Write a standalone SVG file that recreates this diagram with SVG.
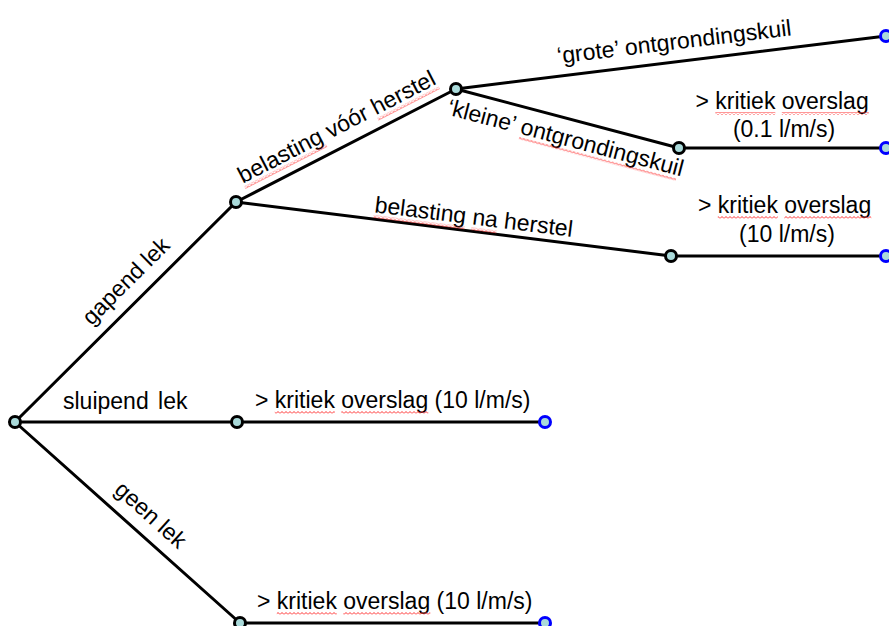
<svg xmlns="http://www.w3.org/2000/svg" width="889" height="626" viewBox="0 0 889 626">
<defs>
<pattern id="sq" width="4" height="3" patternUnits="userSpaceOnUse">
<path d="M0,2.5 L2,0.5 L4,2.5" fill="none" stroke="#ff3030" stroke-width="1"/>
</pattern>
</defs>
<style>
.e{stroke:#000;stroke-width:3;fill:none;stroke-linecap:round}
.n{fill:#aadada;stroke:#000;stroke-width:3}
.b{fill:#aadada;stroke:#0000ff;stroke-width:3}
text{font-family:"Liberation Sans",Arial,sans-serif;font-size:23px;fill:#000}
.s{fill:url(#sq)}
</style>
<rect width="889" height="626" fill="#fff"/>
<g id="connectors">
<line class="e" x1="15" y1="422" x2="236" y2="202"/>
<line class="e" x1="15" y1="422" x2="237" y2="422"/>
<line class="e" x1="15" y1="422" x2="240" y2="623"/>
<line class="e" x1="236" y1="202" x2="456" y2="89"/>
<line class="e" x1="236" y1="202" x2="671" y2="256"/>
<line class="e" x1="456" y1="89" x2="886" y2="36"/>
<line class="e" x1="456" y1="89" x2="679" y2="148"/>
<line class="e" x1="679" y1="148" x2="886" y2="148"/>
<line class="e" x1="671" y1="256" x2="886" y2="256"/>
<line class="e" x1="237" y1="422" x2="545" y2="422"/>
<line class="e" x1="240" y1="623" x2="545" y2="623"/>
</g>
<g id="labels">
<g transform="translate(141.2,296.4) rotate(-44.87)"><text x="-56.3" y="-14">gapend lek</text></g>
<g transform="translate(346,145.3) rotate(-27.2)"><text x="-109.3" y="-13">belasting vóór herstel</text>
<rect class="s" x="-109.3" y="-10" width="92" height="3"/><rect class="s" x="40.3" y="-10" width="69" height="3"/></g>
<g transform="translate(472,231.4) rotate(7.1)"><text x="-99.7" y="-7">belasting na herstel</text>
<rect class="s" x="-99.7" y="-4" width="92" height="3"/><rect class="s" x="-1.3" y="-4" width="25.6" height="3"/></g>
<g transform="translate(674.5,62.6) rotate(-6.9)"><text x="-115.7" y="-13">‘grote’ ontgrondingskuil</text></g>
<g transform="translate(568.4,118.6) rotate(14.8)"><text x="-119.5" y="27">‘kleine’ ontgrondingskuil</text>
<rect class="s" x="-42.8" y="30" width="162.3" height="3"/></g>
<g transform="translate(136.4,531) rotate(41.9)"><text x="-43.5" y="-14">geen lek</text></g>
<text x="63" y="409" word-spacing="3">sluipend lek</text>
<text x="255" y="408">&gt; kritiek overslag (10 l/m/s)</text>
<rect class="s" x="274.8" y="411" width="60" height="3"/><rect class="s" x="341.3" y="411" width="87" height="3"/>
<text x="257" y="609">&gt; kritiek overslag (10 l/m/s)</text>
<rect class="s" x="276.8" y="612" width="60" height="3"/><rect class="s" x="343.3" y="612" width="87" height="3"/>
<text x="695.5" y="109">&gt; kritiek overslag</text>
<rect class="s" x="715.3" y="112" width="60" height="3"/><rect class="s" x="781.8" y="112" width="87" height="3"/>
<text x="784" y="137" text-anchor="middle">(0.1 l/m/s)</text>
<text x="698" y="213">&gt; kritiek overslag</text>
<rect class="s" x="717.8" y="216" width="60" height="3"/><rect class="s" x="784.3" y="216" width="87" height="3"/>
<text x="787" y="242" text-anchor="middle">(10 l/m/s)</text>
</g>
<g id="n-root"><circle class="n" cx="15" cy="422" r="5.5"/></g>
<g id="n-gapend"><circle class="n" cx="236" cy="202" r="5.5"/></g>
<g id="n-sluipend"><circle class="n" cx="237" cy="422" r="5.5"/></g>
<g id="n-geen"><circle class="n" cx="240" cy="623" r="5.5"/></g>
<g id="n-voor"><circle class="n" cx="456" cy="89" r="5.5"/></g>
<g id="n-kleine"><circle class="n" cx="679" cy="148" r="5.5"/></g>
<g id="n-na"><circle class="n" cx="671" cy="256" r="5.5"/></g>
<g id="end-grote"><circle class="b" cx="886" cy="36" r="5.5"/></g>
<g id="end-kleine"><circle class="b" cx="886" cy="148" r="5.5"/></g>
<g id="end-na"><circle class="b" cx="886" cy="256" r="5.5"/></g>
<g id="end-sluipend"><circle class="b" cx="545" cy="422" r="5.5"/></g>
<g id="end-geen"><circle class="b" cx="545" cy="623" r="5.5"/></g>
</svg>
